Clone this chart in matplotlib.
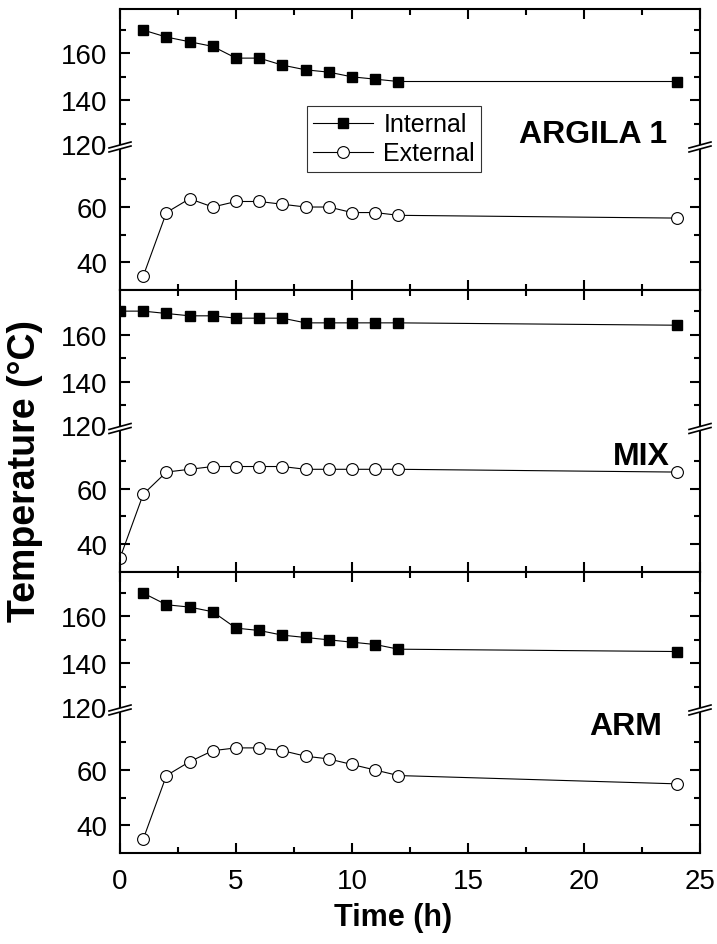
import matplotlib
matplotlib.use('Agg')
import matplotlib.pyplot as plt
from matplotlib.lines import Line2D
from matplotlib.patches import Polygon
from matplotlib.ticker import MultipleLocator

plt.rcParams['font.family'] = ['Liberation Sans', 'DejaVu Sans']

# time (h)
hours = [1, 2, 3, 4, 5, 6, 7, 8, 9, 10, 11, 12, 24]
hours_mix = [0, 1, 2, 3, 4, 5, 6, 7, 8, 9, 10, 11, 12, 24]

# temperatures (°C)
argila_int = [170, 167, 165, 163, 158, 158, 155, 153, 152, 150, 149, 148, 148]
argila_ext = [35, 58, 63, 60, 62, 62, 61, 60, 60, 58, 58, 57, 56]
mix_int = [170, 170, 169, 168, 168, 167, 167, 167, 165, 165, 165, 165, 165, 164]
mix_ext = [35, 58, 66, 67, 68, 68, 68, 68, 67, 67, 67, 67, 67, 66]
arm_int = [170, 165, 164, 162, 155, 154, 152, 151, 150, 149, 148, 146, 145]
arm_ext = [35, 58, 63, 67, 68, 68, 67, 65, 64, 62, 60, 58, 55]

panel_names = ['ARGILA 1', 'MIX', 'ARM']

W, H = 717, 945
fig = plt.figure(figsize=(W / 100, H / 100), dpi=100)

def fx(x):
    return x / W

def fy(y):
    return 1 - y / H

left_px, right_px = 120, 700
tops = [10, 291, 573]
bottoms = [291, 573, 854]
name_pos = [(593, 135), (641, 457), (626, 727)]
tick_fs = 20

panels = [
    (hours, argila_int, argila_ext),
    (hours_mix, mix_int, mix_ext),
    (hours, arm_int, arm_ext),
]

handles = []
for i, (x, t_int, t_ext) in enumerate(panels):
    T, B = tops[i], bottoms[i]
    brk = T + 138 / 281 * (B - T)
    ax_up = fig.add_axes([fx(left_px), fy(brk), fx(right_px - left_px), (brk - T) / H])
    ax_lo = fig.add_axes([fx(left_px), fy(B), fx(right_px - left_px), (B - brk) / H])

    l1, = ax_up.plot(x, t_int, color='k', lw=0.8, marker='s', ms=7.5,
                     mfc='k', mec='k', label='Internal')
    l2, = ax_lo.plot(x, t_ext, color='k', lw=0.8, marker='o', ms=8.5,
                     mfc='w', mec='k', mew=0.8, label='External')
    if i == 0:
        handles = [l1, l2]

    for ax in (ax_up, ax_lo):
        ax.set_xlim(0, 25)
        ax.xaxis.set_major_locator(MultipleLocator(5))
        ax.xaxis.set_minor_locator(MultipleLocator(2.5))
        ax.tick_params(which='both', direction='in', left=True, right=True,
                       labelsize=tick_fs, width=1.5)
        ax.tick_params(which='major', length=7)
        ax.tick_params(which='minor', length=4.3)
        ax.tick_params(axis='y', pad=9)
        ax.tick_params(axis='x', pad=11)
        for s in ax.spines.values():
            s.set_linewidth(1.5)

    ax_up.spines['bottom'].set_visible(False)
    ax_up.tick_params(axis='x', which='both', bottom=False, top=True, labelbottom=False)
    ax_lo.spines['top'].set_visible(False)
    ax_lo.tick_params(axis='x', which='both', top=False, bottom=True,
                      labelbottom=(i == 2))

    ax_up.set_ylim(120, 179)
    ax_up.set_yticks([140, 160])
    ax_up.set_yticks([130, 150, 170], minor=True)
    ax_lo.set_ylim(30, 81.7)
    ax_lo.set_yticks([40, 60])
    ax_lo.set_yticks([50, 70], minor=True)

    fig.text(fx(107), fy(brk), '120', ha='right', va='center', fontsize=tick_fs)

    # axis break marks
    for cx in (left_px, right_px):
        band = Polygon([(fx(cx - 11), fy(brk + 5)), (fx(cx + 11), fy(brk - 1)),
                        (fx(cx + 11), fy(brk - 5)), (fx(cx - 11), fy(brk + 1))],
                       closed=True, transform=fig.transFigure, facecolor='w',
                       edgecolor='none', zorder=10)
        fig.add_artist(band)
        for d in (-2, 2):
            fig.add_artist(Line2D([fx(cx - 11), fx(cx + 11)],
                                  [fy(brk + 3 + d), fy(brk - 3 + d)],
                                  transform=fig.transFigure, color='k', lw=1.2,
                                  zorder=11))

    nx, ny = name_pos[i]
    fig.text(fx(nx), fy(ny), panel_names[i], ha='center', va='center',
             fontsize=23, fontweight='bold')

fig.legend(handles=handles, loc='upper left', bbox_to_anchor=(fx(307), fy(107)),
           fontsize=18, frameon=True, fancybox=False, edgecolor='k',
           borderpad=0.25, labelspacing=0.2, handletextpad=0.4,
           handlelength=2.4, borderaxespad=0).get_frame().set_linewidth(0.8)

fig.text(fx(25), fy(471), 'Temperature (°C)', rotation=90, ha='center',
         va='center', fontsize=27, fontweight='bold')
fig.text(fx(393), fy(918), 'Time (h)', ha='center', va='center',
         fontsize=22, fontweight='bold')

fig.savefig('out.png', dpi=100)
